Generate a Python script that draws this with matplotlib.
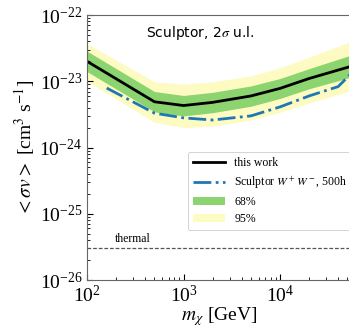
import numpy as np
import matplotlib
matplotlib.use('Agg')
import matplotlib.pyplot as plt

plt.rcParams['font.family'] = ['Liberation Serif', 'DejaVu Serif']
plt.rcParams['mathtext.fontset'] = 'stix'

# masses [GeV]
mass = [100, 500, 1000, 2000, 5000, 1e4, 2e4, 6e4]
# this work (median limit)
limit = [2.0e-23, 4.9e-24, 4.3e-24, 4.8e-24, 6.0e-24, 7.8e-24, 1.1e-23, 1.75e-23]
# 68% band
band68_hi = [2.85e-23, 7.0e-24, 6.1e-24, 6.8e-24, 8.5e-24, 1.1e-23, 1.55e-23, 2.6e-23]
band68_lo = [1.4e-23, 3.45e-24, 3.0e-24, 3.35e-24, 4.2e-24, 5.5e-24, 7.7e-24, 1.2e-23]
# 95% band
band95_hi = [3.7e-23, 9.8e-24, 9.0e-24, 9.8e-24, 1.2e-23, 1.6e-23, 2.3e-23, 4.2e-23]
band95_lo = [1.0e-23, 2.4e-24, 2.0e-24, 2.1e-24, 2.6e-24, 3.4e-24, 4.7e-24, 7.5e-24]

# Sculptor W+W-, 500h
mass_ww = [160, 500, 1000, 2000, 5000, 1e4, 2e4, 4e4, 6e4]
limit_ww = [7.9e-24, 3.3e-24, 2.8e-24, 2.6e-24, 3.0e-24, 4.1e-24, 6.0e-24, 8.3e-24, 1.5e-23]

thermal = 3e-26

W, H = 349, 330
fig = plt.figure(figsize=(W / 100, H / 100), dpi=100)
ax = fig.add_axes([87 / W, 1 - 280 / H, 0.76, 265 / H])

ax.fill_between(mass, band95_lo, band95_hi, color='#fdfbc2', lw=0, label='95%')
ax.fill_between(mass, band68_lo, band68_hi, color='#8cd470', lw=0, label='68%')
ax.plot(mass, limit, color='k', lw=2, label='this work')
ax.plot(mass_ww, limit_ww, color='#1f77b4', lw=2, ls='-.',
        label=r'Sculptor $W^+W^-$, 500h')
ax.axhline(thermal, color='#555555', lw=0.9, ls=(0, (3, 1.5)))
fig.text(115 / W, 1 - 239 / H, 'thermal', fontsize=8.5, va='center')

fig.text(146 / W, 1 - 33 / H, r'Sculptor, 2$\sigma$ u.l.',
         family='DejaVu Sans', fontsize=10, va='center')

ax.set_xscale('log')
ax.set_yscale('log')
ax.set_xlim(100, 5.6e4)
ax.set_ylim(1e-26, 1e-22)
ax.tick_params(which='both', direction='in', labelsize=14)
ax.tick_params(which='major', length=4)
ax.tick_params(which='minor', length=2)
ax.set_xlabel(r'$m_\chi$ [GeV]', fontsize=14, labelpad=-1)
ax.set_ylabel(r'$<\sigma v>$ [cm$^3$ s$^{-1}$]', fontsize=14, labelpad=2)
for s in ax.spines.values():
    s.set_color('#666666')

h, l = ax.get_legend_handles_labels()
order = [2, 3, 1, 0]
leg = ax.legend([h[i] for i in order], [l[i] for i in order],
                loc='upper left', bbox_to_anchor=((188 - 87) / 265, (280 - 152) / 265),
                fontsize=8.5, framealpha=1, handlelength=2.7,
                labelspacing=0.45, borderaxespad=0)
leg.get_frame().set_linewidth(0.6)

fig.savefig('out.png', dpi=100)
